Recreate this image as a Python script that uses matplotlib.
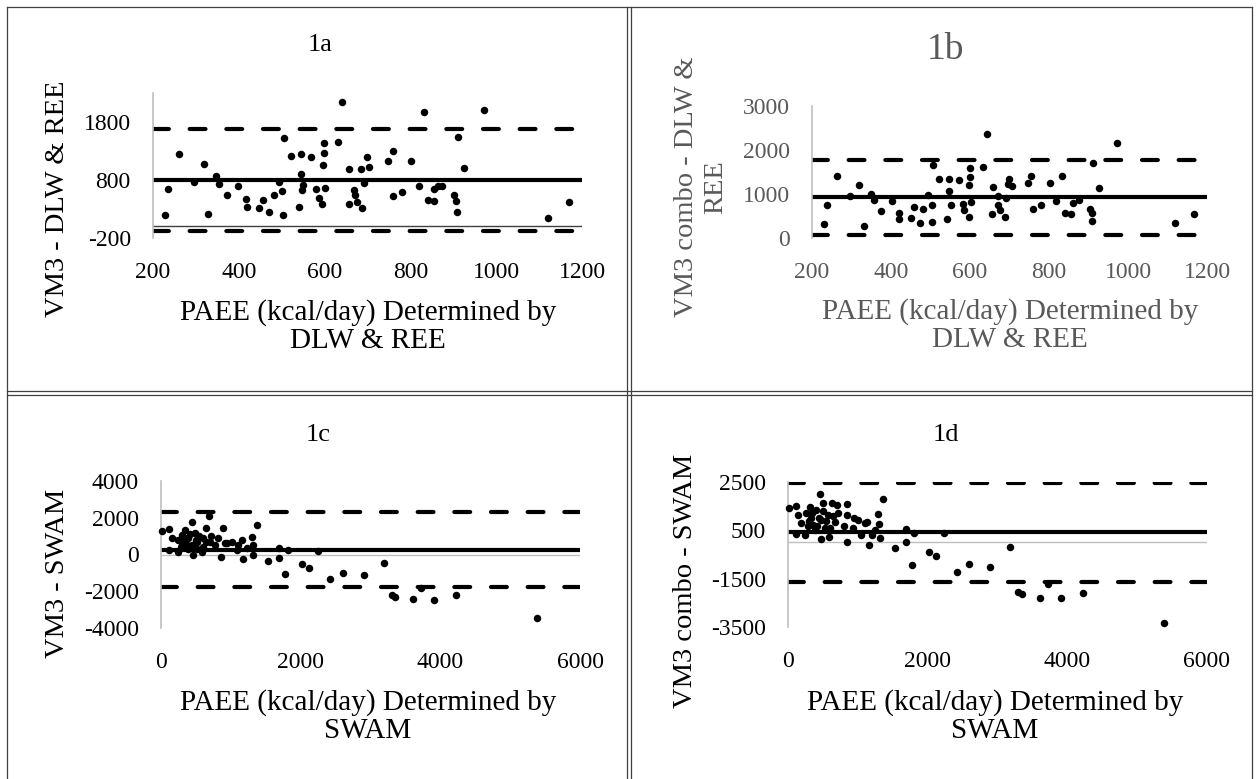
import matplotlib.pyplot as plt
from matplotlib.lines import Line2D

plt.rcParams['font.family'] = ['Liberation Serif', 'DejaVu Serif']
plt.rcParams['axes.unicode_minus'] = False

# Data (Bland-Altman plots)
a_x = [227, 236, 261, 295, 319, 328, 347, 354, 372, 399, 417, 418, 448, 457, 471, 482, 493, 501, 502, 505,
       521, 541, 544, 546, 547, 550, 569, 581, 586, 595, 597, 599, 598, 601, 632, 640, 657, 657, 668, 671,
       676, 686, 688, 692, 698, 703, 747, 759, 759, 781, 802, 819, 831, 841, 854, 856, 864, 873, 901, 906,
       908, 911, 926, 972, 1120, 1170]
a_y = [197, 639, 1248, 766, 1070, 208, 863, 736, 541, 702, 478, 340, 322, 455, 243, 547, 771, 610, 197, 1519,
       1214, 329, 898, 1243, 622, 714, 1197, 639, 495, 386, 1053, 1266, 1432, 657, 1461, 2139, 990, 386, 628, 541,
       415, 990, 322, 753, 1191, 1030, 1128, 1305, 524, 593, 1122, 697, 1978, 455, 443, 639, 697, 697, 541, 438,
       253, 1547, 1012, 2012, 150, 421]

b_x = [230, 239, 264, 296, 320, 331, 349, 358, 375, 402, 419, 421, 451, 459, 474, 482, 493, 503, 505, 506,
       522, 542, 547, 548, 551, 572, 583, 586, 597, 598, 600, 600, 603, 634, 642, 659, 656, 672, 671, 676,
       688, 692, 697, 699, 707, 747, 754, 759, 781, 802, 817, 833, 840, 855, 862, 875, 904, 908, 908, 911,
       926, 973, 1120, 1168]
b_y = [315, 750, 1410, 953, 1200, 270, 1005, 856, 615, 841, 563, 435, 450, 698, 345, 668, 975, 750, 353, 1651,
       1336, 428, 1059, 1336, 750, 1321, 773, 646, 473, 1200, 1388, 1590, 826, 1613, 2365, 1156, 540, 960, 750, 638,
       480, 901, 1216, 1350, 1186, 1261, 1411, 653, 750, 1239, 841, 1411, 578, 548, 803, 856, 653, 578, 390, 1696,
       1140, 2153, 330, 540]

c_x = [10, 119, 119, 152, 248, 248, 296, 344, 368, 392, 440, 464, 487, 511, 583, 607, 645, 692, 702, 773,
       860, 883, 917, 1012, 1084, 1155, 1179, 1227, 1299, 1313, 1322, 1371, 1537, 1686, 1695, 1772, 1815, 2024,
       2124, 2245, 2425, 2603, 2904, 3190, 3305, 3352, 3614, 3724, 3915, 4226, 5390,
       300, 350, 420, 450, 500, 550, 600, 650, 520, 380, 280, 720, 820, 950, 1100]
c_y = [1270, 1363, 234, 905, 109, 780, 1052, 1327, 507, 872, 1778, -38, 1145, 687, 142, 872, 1450, 2088, 687, 507,
       -131, 1418, 600, 687, 234, 780, -218, 327, 960, 507, -38, 1598, -365, -185, 360, -1074, 218, -529,
       -729, 196, -1330, -1020, -1129, -436, -2181, -2328, -2401, -1821, -2454, -2219, -3457,
       600, 900, 1100, 500, 800, 1000, 400, 700, 300, 300, 400, 1000, 900, 600, 500]

d_x = [14, 120, 111, 144, 192, 240, 263, 311, 335, 359, 407, 455, 469, 478, 502, 526, 574, 588, 636, 703,
       670, 846, 846, 846, 932, 1004, 1052, 1138, 1162, 1196, 1291, 1301, 1315, 1363, 1526, 1684, 1684, 1770,
       1804, 2023, 2119, 2238, 2420, 2597, 2894, 3181, 3291, 3349, 3611, 3722, 3913, 4218, 5380,
       300, 350, 420, 450, 500, 550, 600, 650, 380, 280, 720, 800, 950, 1100, 1250]
d_y = [1436, 1506, 348, 1134, 790, 306, 1204, 1477, 997, 720, 1340, 1990, 141, 927, 1618, 583, 1134, 236, 1618, 1547,
       856, 1576, 1134, 4, 583, 927, 306, 856, -108, 306, 1162, 748, 168, 1783, -245, 30, 554, -935,
       376, -411, -563, 376, -1211, -907, -1004, -204, -2066, -2149, -2314, -1707, -2314, -2080, -3322,
       900, 1200, 700, 1000, 1300, 900, 600, 1100, 500, 700, 1200, 700, 1000, 800, 500]

# mean difference and limits of agreement
a_lines = [795, 1675, -75]
b_lines = [925, 1780, 75]
c_lines = [250, 2320, -1750]
d_lines = [420, 2470, -1620]

W, H = 1256, 779
fig = plt.figure(figsize=(W / 100, H / 100), dpi=100)


def fx(x):
    return x / W


def fy(y):
    return 1 - y / H


panels = [
    dict(rect=(153, 93, 582, 238), x=a_x, y=a_y, lines=a_lines, xlim=(200, 1200),
         xticks=[200, 400, 600, 800, 1000, 1200], ylim=(-200, 2300), yticks=[-200, 800, 1800],
         zero='#404040', color='black', title='1a', tsize=19, tpos=(320, 45),
         ylabel='VM3 - DLW & REE', ylpos=(58, 199),
         xlabel='PAEE (kcal/day) Determined by\nDLW & REE', xlpos=(368, 327)),
    dict(rect=(812, 106, 1207, 238), x=b_x, y=b_y, lines=b_lines, xlim=(200, 1200),
         xticks=[200, 400, 600, 800, 1000, 1200], ylim=(0, 3000), yticks=[0, 1000, 2000, 3000],
         zero='#bfbfbf', color='#595959', title='1b', tsize=27, tpos=(946, 50),
         ylabel='VM3 combo - DLW &\nREE', ylpos=(701, 187),
         xlabel='PAEE (kcal/day) Determined by\nDLW & REE', xlpos=(1010, 326)),
    dict(rect=(161, 481, 580, 628), x=c_x, y=c_y, lines=c_lines, xlim=(0, 6000),
         xticks=[0, 2000, 4000, 6000], ylim=(-4000, 4000), yticks=[-4000, -2000, 0, 2000, 4000],
         zero='#bfbfbf', color='black', title='1c', tsize=19, tpos=(318, 435),
         ylabel='VM3 - SWAM', ylpos=(58, 573),
         xlabel='PAEE (kcal/day) Determined by\nSWAM', xlpos=(368, 717)),
    dict(rect=(788, 482, 1207, 627), x=d_x, y=d_y, lines=d_lines, xlim=(0, 6000),
         xticks=[0, 2000, 4000, 6000], ylim=(-3500, 2500), yticks=[-3500, -1500, 500, 2500],
         zero='#bfbfbf', color='black', title='1d', tsize=19, tpos=(946, 435),
         ylabel='VM3 combo - SWAM', ylpos=(686, 581),
         xlabel='PAEE (kcal/day) Determined by\nSWAM', xlpos=(995, 717)),
]

for p in panels:
    l, t, r, b = p['rect']
    ax = fig.add_axes([fx(l), fy(b), (r - l) / W, (b - t) / H])
    ax.set_xlim(p['xlim'])
    ax.set_ylim(p['ylim'])
    ax.set_xticks(p['xticks'])
    ax.set_yticks(p['yticks'])
    for s in ['top', 'right', 'bottom']:
        ax.spines[s].set_visible(False)
    ax.spines['left'].set_color('#bfbfbf')
    ax.spines['left'].set_linewidth(1.2)
    ax.tick_params(length=0, labelsize=17, colors=p['color'])
    ax.tick_params(axis='y', pad=16)
    ax.tick_params(axis='x', pad=17)

    if p['ylim'][0] < 0 < p['ylim'][1]:
        ax.axhline(0, color=p['zero'], lw=1, zorder=1)
    mean, upper, lower = p['lines']
    ax.axhline(mean, color='black', lw=3, zorder=2)
    for v in (upper, lower):
        ax.axhline(v, color='black', lw=3, linestyle=(0, (3.8, 5.0)),
                   dash_capstyle='round', zorder=2)
    ax.plot(p['x'], p['y'], 'o', color='black', ms=5.4, mec='none',
            zorder=3, clip_on=False)

    fig.text(fx(p['tpos'][0]), fy(p['tpos'][1]), p['title'], ha='center', va='center',
             fontsize=p['tsize'], color=p['color'])
    fig.text(fx(p['ylpos'][0]), fy(p['ylpos'][1]), p['ylabel'], ha='center', va='center',
             rotation=90, fontsize=20.5, color=p['color'], linespacing=1.2)
    fig.text(fx(p['xlpos'][0]), fy(p['xlpos'][1]), p['xlabel'], ha='center', va='center',
             fontsize=21, color=p['color'], linespacing=1.1)

# table borders around the four charts
bc = '#404040'
segs = [((7, 7), (1252, 7)), ((7, 7), (7, 779)), ((1252, 7), (1252, 779)),
        ((627, 7), (627, 779)), ((631, 7), (631, 779)),
        ((7, 391), (1252, 391)), ((7, 395), (1252, 395))]
for (x0, y0), (x1, y1) in segs:
    fig.add_artist(Line2D([fx(x0), fx(x1)], [fy(y0), fy(y1)], color=bc, lw=0.9))

fig.savefig('out.png', dpi=100)
